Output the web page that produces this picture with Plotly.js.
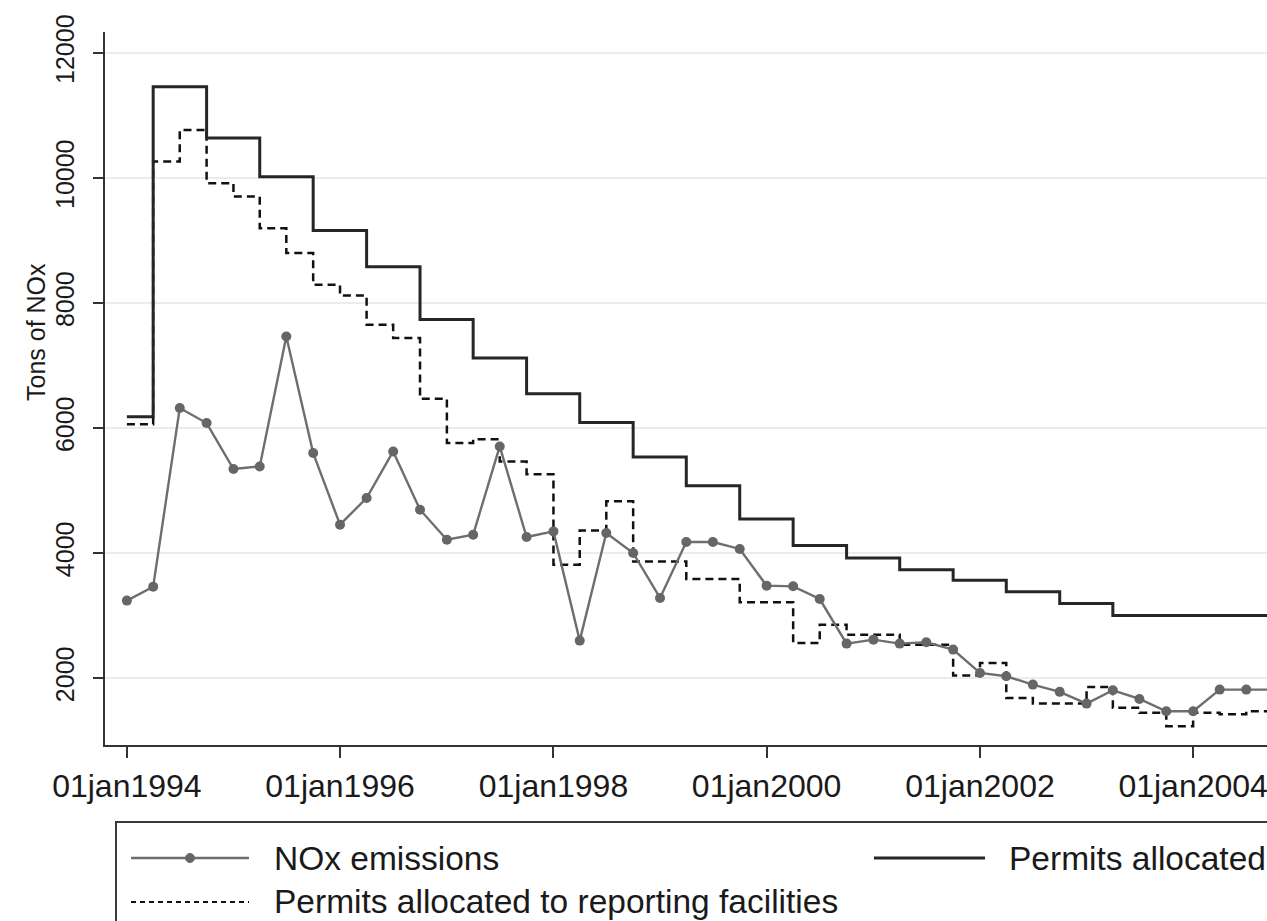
<!DOCTYPE html>
<html>
<head>
<meta charset="utf-8">
<script src="https://cdn.plot.ly/plotly-3.0.1.min.js"></script>
<style>
  html, body { margin: 0; padding: 0; background: #ffffff; }
  #chart { width: 1267px; height: 921px; }
</style>
</head>
<body>
<div id="chart"></div>
<script>
// ---- Data (quarterly) ----
const quarters = [
  '1994-01-01','1994-04-01','1994-07-01','1994-10-01',
  '1995-01-01','1995-04-01','1995-07-01','1995-10-01',
  '1996-01-01','1996-04-01','1996-07-01','1996-10-01',
  '1997-01-01','1997-04-01','1997-07-01','1997-10-01',
  '1998-01-01','1998-04-01','1998-07-01','1998-10-01',
  '1999-01-01','1999-04-01','1999-07-01','1999-10-01',
  '2000-01-01','2000-04-01','2000-07-01','2000-10-01',
  '2001-01-01','2001-04-01','2001-07-01','2001-10-01',
  '2002-01-01','2002-04-01','2002-07-01','2002-10-01',
  '2003-01-01','2003-04-01','2003-07-01','2003-10-01',
  '2004-01-01','2004-04-01','2004-07-01','2004-10-01'
];

const noxEmissions = [
  3240, 3460, 6320, 6080,
  5345, 5386, 7464, 5600,
  4454, 4881, 5626, 4694,
  4214, 4294, 5706, 4257,
  4347, 2600, 4321, 4002,
  3282, 4177, 4177, 4066,
  3479, 3468, 3265, 2552,
  2615, 2552, 2573, 2456,
  2083, 2029, 1896, 1780,
  1592, 1805, 1667, 1469,
  1469, 1816, 1816, 1816
];

const permitsAllocated = [
  6180, 11460, 11460, 10640,
  10640, 10020, 10020, 9160,
  9160, 8580, 8580, 7735,
  7735, 7120, 7120, 6550,
  6550, 6090, 6090, 5536,
  5536, 5078, 5078, 4545,
  4545, 4120, 4120, 3922,
  3922, 3735, 3735, 3564,
  3564, 3383, 3383, 3195,
  3195, 3000, 3000, 3000,
  3000, 3000, 3000, 3000
];

const permitsReporting = [
  6060, 10262, 10769, 9917,
  9703, 9197, 8798, 8291,
  8120, 7651, 7440, 6470,
  5760, 5820, 5466, 5260,
  3815, 4363, 4827, 3867,
  3867, 3586, 3586, 3212,
  3212, 2563, 2855, 2695,
  2695, 2535, 2535, 2040,
  2243, 1683, 1592, 1592,
  1859, 1524, 1444, 1230,
  1444, 1420, 1470, 1480
];

const seriesNames = ['NOx emissions', 'Permits allocated', 'Permits allocated to reporting facilities'];

const xTickVals = ['1994-01-01','1996-01-01','1998-01-01','2000-01-01','2002-01-01','2004-01-01'];
const xTickText = ['01jan1994','01jan1996','01jan1998','01jan2000','01jan2002','01jan2004'];
const yTickVals = [2000, 4000, 6000, 8000, 10000, 12000];
const yTickText = ['2000','4000','6000','8000','10000','12000'];
const yTitle = 'Tons of NOx';

// ---- Styling / layout ----
const W = 1267, H = 921;
const M = { l: 105, r: 0, t: 32, b: 176 };
const plotW = W - M.l - M.r, plotH = H - M.t - M.b;
const px2x = p => (p - M.l) / plotW;
const py2y = p => (H - M.b - p) / plotH;

const gray = '#6e6e6e';
const dark = '#262626';
const font = 'Liberation Sans, Arial, Helvetica, sans-serif';

const traces = [
  {
    x: quarters, y: permitsReporting, name: seriesNames[2], type: 'scatter', mode: 'lines',
    line: { shape: 'hv', color: '#111111', width: 2.5, dash: '8px,5px' }
  },
  {
    x: quarters, y: permitsAllocated, name: seriesNames[1], type: 'scatter', mode: 'lines',
    line: { shape: 'hv', color: dark, width: 3 }
  },
  {
    x: quarters, y: noxEmissions, name: seriesNames[0], type: 'scatter', mode: 'lines+markers',
    line: { color: gray, width: 2.4 },
    marker: { color: '#666666', size: 10, symbol: 'circle' }
  }
];

const shapes = [
  // legend box
  { type: 'rect', xref: 'paper', yref: 'paper', x0: px2x(116), x1: px2x(1320), y0: py2y(822), y1: py2y(990),
    line: { color: '#3a3a3a', width: 2 }, fillcolor: 'rgba(0,0,0,0)', layer: 'above' },
  // legend keys
  { type: 'line', xref: 'paper', yref: 'paper', x0: px2x(131), x1: px2x(249), y0: py2y(858), y1: py2y(858),
    line: { color: gray, width: 2.4 } },
  { type: 'circle', xref: 'paper', yref: 'paper', x0: px2x(185.5), x1: px2x(194.5), y0: py2y(853.5), y1: py2y(862.5),
    line: { color: '#666666', width: 1 }, fillcolor: '#666666' },
  { type: 'line', xref: 'paper', yref: 'paper', x0: px2x(874), x1: px2x(985), y0: py2y(858), y1: py2y(858),
    line: { color: dark, width: 3 } },
  { type: 'line', xref: 'paper', yref: 'paper', x0: px2x(131), x1: px2x(249), y0: py2y(902), y1: py2y(902),
    line: { color: '#111111', width: 2, dash: '5px,4px' } }
];

const legendFont = { family: font, size: 33.5, color: '#1a1a1a' };
const annotations = [
  { xref: 'paper', yref: 'paper', x: px2x(272), y: py2y(858), xanchor: 'left', yanchor: 'middle',
    text: seriesNames[0], showarrow: false, font: legendFont },
  { xref: 'paper', yref: 'paper', x: px2x(1007), y: py2y(858), xanchor: 'left', yanchor: 'middle',
    text: seriesNames[1], showarrow: false, font: legendFont },
  { xref: 'paper', yref: 'paper', x: px2x(272), y: py2y(902), xanchor: 'left', yanchor: 'middle',
    text: seriesNames[2], showarrow: false, font: legendFont },
  { xref: 'paper', yref: 'paper', x: px2x(36), y: py2y(332), xanchor: 'center', yanchor: 'middle',
    text: yTitle, textangle: -90, showarrow: false, font: { family: font, size: 25, color: '#1a1a1a' } }
];

const layout = {
  width: W, height: H,
  margin: M,
  paper_bgcolor: '#ffffff',
  plot_bgcolor: '#ffffff',
  showlegend: false,
  xaxis: {
    type: 'date',
    range: ['1993-10-18', '2004-09-10'],
    tickmode: 'array', tickvals: xTickVals, ticktext: xTickText,
    ticks: 'outside', ticklen: 11, tickwidth: 2, tickcolor: '#333333',
    showline: true, linecolor: '#333333', linewidth: 2, mirror: false,
    showgrid: false, zeroline: false,
    tickfont: { family: font, size: 32, color: '#1a1a1a' },
    ticklabelstandoff: 1,
    ticklabeloverflow: 'allow'
  },
  yaxis: {
    range: [930, 12335],
    tickmode: 'array', tickvals: yTickVals, ticktext: yTickText,
    tickangle: -90,
    ticks: 'outside', ticklen: 10, tickwidth: 2, tickcolor: '#333333',
    showline: true, linecolor: '#333333', linewidth: 2,
    showgrid: true, gridcolor: '#ececec', gridwidth: 2,
    zeroline: false,
    tickfont: { family: font, size: 25, color: '#1a1a1a' },
    ticklabelstandoff: 9,
    ticklabeloverflow: 'allow'
  },
  shapes: shapes,
  annotations: annotations
};

Plotly.newPlot('chart', traces, layout, { displayModeBar: false, staticPlot: true });
</script>
</body>
</html>
